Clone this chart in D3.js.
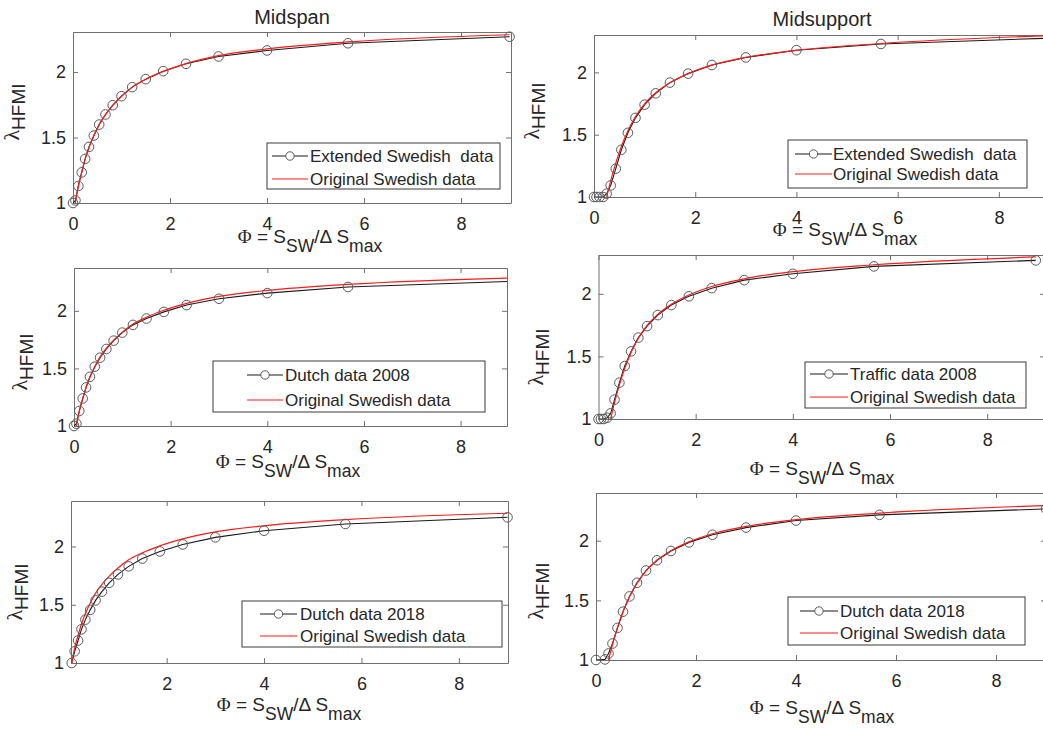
<!DOCTYPE html>
<html>
<head>
<meta charset="utf-8">
<script src="https://cdn.jsdelivr.net/npm/d3@7"></script>
<style>
  html, body { margin: 0; padding: 0; background: #ffffff; }
  svg { display: block; }
  text { font-family: "Liberation Sans", Arial, sans-serif; fill: #262626; }
</style>
</head>
<body>
<script>
// ---- data -------------------------------------------------------------
// Φ = S_SW / ΔS_max sample points
const phiFull = [0, 0.05, 0.11, 0.18, 0.25, 0.33, 0.43, 0.54, 0.67, 0.82, 1.0, 1.22, 1.5, 1.86, 2.33, 3.0, 4.0, 5.67, 9.0];
const phiDutch2018Span = [0.05, 0.11, 0.18, 0.25, 0.33, 0.43, 0.54, 0.67, 0.82, 1.0, 1.22, 1.5, 1.86, 2.33, 3.0, 4.0, 5.67, 9.0];
const phiDutch2018Support = [0, 0.18, 0.25, 0.33, 0.43, 0.54, 0.67, 0.82, 1.0, 1.22, 1.5, 1.86, 2.33, 3.0, 4.0, 5.67, 9.0];
const phiOrigSpan = [0.05, 0.11, 0.18, 0.25, 0.33, 0.43, 0.54, 0.67, 0.82, 1.0, 1.22, 1.5, 1.86, 2.33, 3.0, 4.0, 5.67, 9.0];
const phiOrigSupport = [0.25, 0.33, 0.43, 0.54, 0.67, 0.82, 1.0, 1.22, 1.5, 1.86, 2.33, 3.0, 4.0, 5.67, 9.0];

// λ_HFMI values, midspan
const extSwedishSpan = [1.0, 1.02, 1.13, 1.234, 1.337, 1.428, 1.515, 1.599, 1.676, 1.747, 1.816, 1.885, 1.946, 2.007, 2.063, 2.119, 2.165, 2.22, 2.27];
const dutch2008Span = [1.0, 1.02, 1.131, 1.239, 1.335, 1.427, 1.515, 1.593, 1.669, 1.741, 1.811, 1.878, 1.933, 1.991, 2.05, 2.105, 2.154, 2.207, 2.255];
const dutch2018Span = [1.0, 1.10, 1.193, 1.289, 1.372, 1.456, 1.537, 1.612, 1.688, 1.76, 1.829, 1.896, 1.957, 2.017, 2.078, 2.135, 2.193, 2.25];
const origSwedishSpan = [1.0, 1.13, 1.235, 1.335, 1.425, 1.515, 1.60, 1.675, 1.745, 1.815, 1.885, 1.945, 2.005, 2.065, 2.125, 2.177, 2.23, 2.285];

// λ_HFMI values, midsupport
const extSwedishSupport = [1.0, 1.0, 1.0, 1.0, 1.027, 1.093, 1.227, 1.379, 1.515, 1.635, 1.741, 1.832, 1.918, 1.99, 2.059, 2.12, 2.178, 2.228, 2.275];
const traffic2008Support = [1.0, 1.0, 1.0, 1.01, 1.045, 1.155, 1.29, 1.423, 1.54, 1.65, 1.742, 1.83, 1.91, 1.98, 2.045, 2.109, 2.16, 2.219, 2.267];
const dutch2018Support = [1.0, 1.005, 1.055, 1.138, 1.269, 1.405, 1.533, 1.647, 1.75, 1.836, 1.914, 1.986, 2.05, 2.11, 2.169, 2.217, 2.267];
const origSwedishSupport = [1.0, 1.13, 1.272, 1.405, 1.532, 1.645, 1.748, 1.836, 1.916, 1.99, 2.058, 2.12, 2.177, 2.232, 2.295];

const xTickValues = [0, 2, 4, 6, 8];
const xTickLabels = ["0", "2", "4", "6", "8"];
const yTickValues = [1, 1.5, 2];
const yTickLabels = ["1", "1.5", "2"];

const originalLabel = "Original Swedish data";

// ---- layout of the six axes -----------------------------------------------
const panels = [
  { title: "Midspan", titleX: 292, titleY: 24,
    box: [73, 32, 511, 203], xDom: [0, 9.03], yDom: [1, 2.306],
    bx: phiFull, by: extSwedishSpan, rx: phiOrigSpan, ry: origSwedishSpan,
    name: "Extended Swedish  data",
    legend: [267, 143, 500, 189], rows: [156, 179], lineX: [272, 308], textX: 310,
    xlab: { cx: 310, y: 243 }, ylab: { cy: 112, x: 19 } },
  { title: "Midsupport", titleX: 822, titleY: 26,
    box: [594, 35, 1049.5, 197], xDom: [0, 9], yDom: [1, 2.30],
    bx: phiFull, by: extSwedishSupport, rx: phiOrigSupport, ry: origSwedishSupport,
    name: "Extended Swedish  data",
    legend: [788, 140, 1027, 188], rows: [154, 174], lineX: [795, 832], textX: 833,
    xlab: { cx: 845, y: 236 }, ylab: { cy: 111, x: 539 } },
  { box: [74, 268, 507, 426], xDom: [0, 8.96], yDom: [1, 2.372],
    bx: phiFull, by: dutch2008Span, rx: phiOrigSpan, ry: origSwedishSpan,
    name: "Dutch data 2008",
    legend: [213, 361, 485, 412], rows: [375, 400], lineX: [247, 283], textX: 285,
    xlab: { cx: 288, y: 468 }, ylab: { cy: 362, x: 27 } },
  { box: [598.5, 255, 1045, 419], xDom: [0, 9.19], yDom: [1, 2.31],
    bx: phiFull, by: traffic2008Support, rx: phiOrigSupport, ry: origSwedishSupport,
    name: "Traffic data 2008",
    legend: [805, 362, 1026, 408], rows: [374, 397], lineX: [810, 848], textX: 850,
    xlab: { cx: 822, y: 475 }, ylab: { cy: 357, x: 543 } },
  { box: [71, 501, 508, 663], xDom: [0.035, 9.01], yDom: [1, 2.39],
    bx: phiDutch2018Span, by: dutch2018Span, rx: phiOrigSpan, ry: origSwedishSpan,
    name: "Dutch data 2018",
    legend: [242, 601, 502, 647], rows: [614, 636], lineX: [260, 297], textX: 300,
    xlab: { cx: 289, y: 711 }, ylab: { cy: 592, x: 22 } },
  { box: [596, 493, 1046, 660], xDom: [0, 9], yDom: [1, 2.40],
    bx: phiDutch2018Support, by: dutch2018Support, rx: phiOrigSupport, ry: origSwedishSupport,
    name: "Dutch data 2018",
    legend: [788, 597, 1025, 645], rows: [611, 633], lineX: [800, 838], textX: 840,
    xlab: { cx: 822, y: 714 }, ylab: { cy: 591, x: 543 } }
];

const W = 1043, H = 731;
const axisColor = "#707070";
const svg = d3.select("body").append("svg").attr("width", W).attr("height", H);

panels.forEach((p, i) => {
  const [x0, y0, x1, y1] = p.box;
  const xs = d3.scaleLinear().domain(p.xDom).range([x0, x1]);
  const ys = d3.scaleLinear().domain(p.yDom).range([y1, y0]);
  const g = svg.append("g");

  const clipId = "plotclip" + i;
  svg.append("clipPath").attr("id", clipId)
    .append("rect").attr("x", x0).attr("y", y0).attr("width", x1 - x0).attr("height", y1 - y0);

  const xt = xTickValues.filter(v => v >= p.xDom[0] && v <= p.xDom[1]);
  const xfmt = v => xTickLabels[xTickValues.indexOf(v)];
  const yfmt = v => yTickLabels[yTickValues.indexOf(v)];

  // box with inward ticks on all four sides
  const bottom = g.append("g").attr("transform", `translate(0,${y1})`)
    .call(d3.axisBottom(xs).tickValues(xt).tickFormat(xfmt).tickSizeInner(-5).tickSizeOuter(0).tickPadding(14));
  const top = g.append("g").attr("transform", `translate(0,${y0})`)
    .call(d3.axisTop(xs).tickValues(xt).tickFormat("").tickSizeInner(-5).tickSizeOuter(0));
  const left = g.append("g").attr("transform", `translate(${x0},0)`)
    .call(d3.axisLeft(ys).tickValues(yTickValues).tickFormat(yfmt).tickSizeInner(-5).tickSizeOuter(0).tickPadding(7));
  const right = g.append("g").attr("transform", `translate(${x1},0)`)
    .call(d3.axisRight(ys).tickValues(yTickValues).tickFormat("").tickSizeInner(-5).tickSizeOuter(0));

  [bottom, top, left, right].forEach(a => {
    a.select(".domain").attr("stroke", axisColor).attr("stroke-width", 1);
    a.selectAll(".tick line").attr("stroke", axisColor).attr("stroke-width", 1);
    a.selectAll("text").attr("fill", "#262626")
      .style("font-family", '"Liberation Sans", Arial, sans-serif').style("font-size", "18px");
  });

  const plot = g.append("g").attr("clip-path", `url(#${clipId})`);
  const bData = p.bx.map((v, k) => [v, p.by[k]]);
  const rData = p.rx.map((v, k) => [v, p.ry[k]]);

  const lineLinear = d3.line().x(d => xs(d[0])).y(d => ys(d[1]));
  const lineSmooth = d3.line().x(d => xs(d[0])).y(d => ys(d[1])).curve(d3.curveMonotoneX);

  plot.append("path").datum(bData).attr("d", lineLinear)
    .attr("fill", "none").attr("stroke", "#1a1a1a").attr("stroke-width", 1.1);

  g.append("g").selectAll("circle")
    .data(bData.filter(d => d[0] >= p.xDom[0] - 1e-9 && d[0] <= p.xDom[1]))
    .join("circle")
    .attr("cx", d => xs(d[0])).attr("cy", d => ys(d[1])).attr("r", 4.8)
    .attr("fill", "none").attr("stroke", "#5a5a5a").attr("stroke-width", 1);

  plot.append("path").datum(rData).attr("d", lineSmooth)
    .attr("fill", "none").attr("stroke", "#ff1a1a").attr("stroke-width", 1.2);

  // legend
  const [lx0, ly0, lx1, ly1] = p.legend;
  const lg = g.append("g");
  lg.append("rect").attr("x", lx0).attr("y", ly0).attr("width", lx1 - lx0).attr("height", ly1 - ly0)
    .attr("fill", "#ffffff").attr("stroke", "#3a3a3a").attr("stroke-width", 1);
  lg.append("line").attr("x1", p.lineX[0]).attr("x2", p.lineX[1]).attr("y1", p.rows[0]).attr("y2", p.rows[0])
    .attr("stroke", "#1a1a1a").attr("stroke-width", 1.1);
  lg.append("circle").attr("cx", (p.lineX[0] + p.lineX[1]) / 2).attr("cy", p.rows[0]).attr("r", 4.2)
    .attr("fill", "#ffffff").attr("stroke", "#5a5a5a").attr("stroke-width", 1);
  lg.append("line").attr("x1", p.lineX[0]).attr("x2", p.lineX[1]).attr("y1", p.rows[1]).attr("y2", p.rows[1])
    .attr("stroke", "#ff1a1a").attr("stroke-width", 1.2);
  [p.name, originalLabel].forEach((t, k) => {
    lg.append("text").attr("x", p.textX).attr("y", p.rows[k]).attr("dy", "0.36em")
      .style("font-size", "17px").style("white-space", "pre").attr("fill", "#111").text(t);
  });

  // title
  if (p.title) {
    g.append("text").attr("x", p.titleX).attr("y", p.titleY).attr("text-anchor", "middle")
      .style("font-size", "20px").attr("fill", "#111").text(p.title);
  }

  // x label: Φ = S_SW / Δ S_max
  const xl = g.append("text").attr("x", p.xlab.cx).attr("y", p.xlab.y).attr("text-anchor", "middle")
    .style("font-size", "19px").style("white-space", "pre").attr("fill", "#262626");
  xl.append("tspan").style("font-family", '"Liberation Serif", "Times New Roman", serif').style("font-size", "19px").text("Φ");
  xl.append("tspan").text(" = S");
  xl.append("tspan").attr("dy", 9).style("font-size", "17.5px").text("SW");
  xl.append("tspan").attr("dy", -9).text("/Δ S");
  xl.append("tspan").attr("dy", 9).style("font-size", "17.5px").text("max");

  // y label: λ_HFMI
  const yl = g.append("text")
    .attr("transform", `translate(${p.ylab.x},${p.ylab.cy}) rotate(-90)`)
    .attr("text-anchor", "middle").attr("fill", "#262626");
  yl.append("tspan").style("font-family", '"Liberation Serif", "Times New Roman", serif').style("font-size", "22px").text("λ");
  yl.append("tspan").attr("dy", 6).style("font-size", "19px").text("HFMI");
});
</script>
</body>
</html>
